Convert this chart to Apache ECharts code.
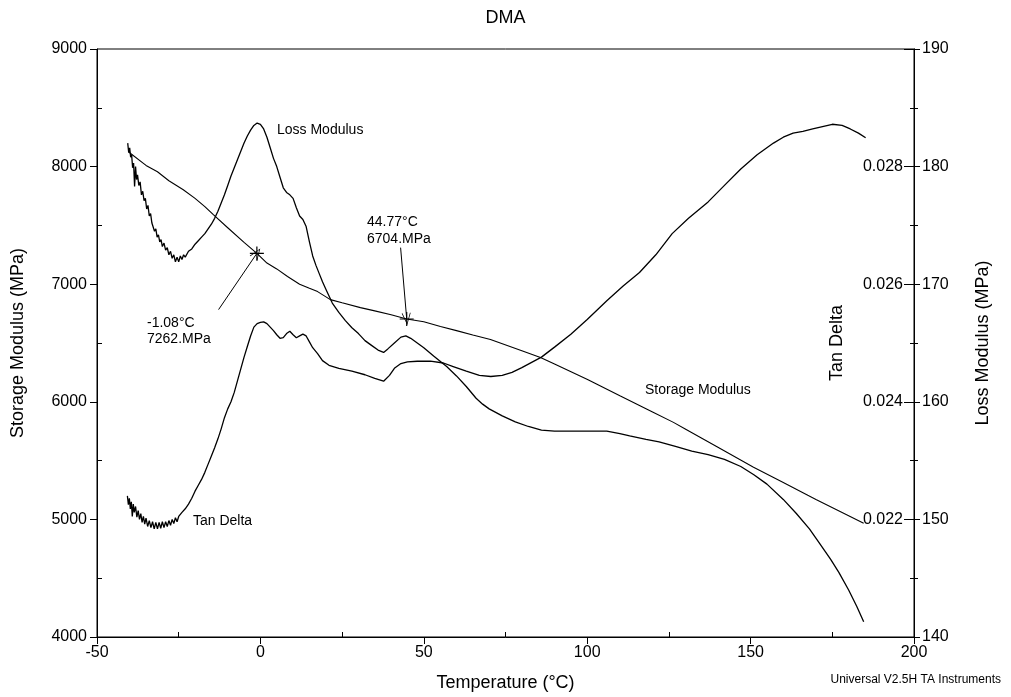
<!DOCTYPE html>
<html>
<head>
<meta charset="utf-8">
<script src="https://cdn.jsdelivr.net/npm/echarts@6/dist/echarts.min.js"></script>
<style>
html,body{margin:0;padding:0;background:#fff;}
#chart{width:1011px;height:697px;}
</style>
</head>
<body>
<div id="chart"></div>
<script>
// ---- Data ----
const xTicks = [-50, 0, 50, 100, 150, 200];

const storageTemp = [-40.4, -35, -31.5, -28, -23.6, -20, -17, -14.4, -10, -5, -1.08, 2, 5, 8.3, 12, 15, 17.5, 21.4, 25, 30.6, 35, 40, 44.77, 50, 55.1, 60, 65, 70.4, 80, 85.7, 90, 100.1, 110, 120, 126.4, 130, 140, 150.9, 160, 167.5, 170, 180, 184.6];
const storageVals = [8126, 8010, 7956, 7880, 7803, 7730, 7660, 7591, 7480, 7355, 7262, 7180, 7130, 7065, 7000, 6965, 6937, 6869, 6842, 6801, 6773, 6740, 6704, 6680, 6640, 6605, 6568, 6530, 6434, 6377, 6321, 6190, 6052, 5914, 5825, 5769, 5613, 5443, 5313, 5205, 5170, 5032, 4968];

const lossTemp = [-40.6, -40.3, -40.0, -39.7, -39.4, -39.1, -38.8, -38.5, -38.2, -37.9, -37.6, -37.2, -36.8, -36.4, -36.0, -35.6, -35.2, -34.8, -34.4, -34.0, -33.6, -33.2, -32.8, -32.4, -32.0, -31.6, -31.2, -30.8, -30.4, -30.0, -29.5, -29.0, -28.5, -28.0, -27.5, -27.0, -26.5, -26.0, -25.5, -25.0, -24.5, -24.0, -23.5, -23.0, -22.0, -21.0, -20.0, -19.0, -18.0, -17.0, -16.0, -15.0, -14.0, -13.0, -12.0, -11.0, -10.0, -9.0, -8.0, -7.0, -6.0, -5.0, -4.0, -3.0, -2.0, -1.0, 0.0, 1.0, 2.0, 3.0, 4.0, 5.0, 6.0, 7.0, 8.0, 9.0, 10.0, 11.0, 12.0, 13.0, 14.0, 15.0, 16.0, 17.0, 18.0, 19.0, 20.0, 21.0, 22.0, 24.0, 26.0, 28.0, 30.0, 32.0, 34.0, 36.0, 37.7, 39.0, 41.0, 43.0, 44.5, 46.0, 48.0, 50.0, 53.0, 57.0, 60.0, 63.0, 66.0, 68.0, 70.0, 74.0, 78.0, 82.0, 86.0, 90.0, 95.0, 100.0, 106.0, 110.0, 113.0, 118.0, 122.0, 127.0, 132.0, 137.0, 142.0, 147.0, 151.0, 155.0, 160.0, 164.0, 168.0, 171.0, 174.5, 177.0, 180.0, 182.5, 184.6];
const lossVals = [182.0, 181.2, 181.6, 180.8, 181.0, 179.9, 180.3, 178.3, 180.0, 178.9, 179.3, 178.4, 178.7, 177.6, 177.9, 177.1, 177.3, 176.4, 176.7, 175.8, 176.0, 175.2, 175.3, 174.5, 174.7, 174.0, 174.2, 173.6, 173.8, 173.2, 173.5, 172.9, 173.1, 172.5, 172.8, 172.2, 172.5, 171.9, 172.3, 171.9, 172.4, 172.1, 172.5, 172.3, 172.8, 173.0, 173.4, 173.7, 174.0, 174.3, 174.7, 175.1, 175.6, 176.2, 176.9, 177.6, 178.4, 179.2, 179.9, 180.6, 181.3, 182.0, 182.6, 183.1, 183.5, 183.7, 183.6, 183.2, 182.5, 181.6, 180.7, 180.0, 179.1, 178.2, 177.8, 177.6, 177.3, 176.5, 175.8, 175.5, 174.9, 173.6, 172.4, 171.6, 170.9, 170.2, 169.6, 169.0, 168.4, 167.6, 166.9, 166.3, 165.8, 165.2, 164.8, 164.4, 164.2, 164.5, 165.0, 165.5, 165.6, 165.4, 165.0, 164.6, 163.9, 163.0, 162.2, 161.3, 160.3, 159.8, 159.4, 158.8, 158.3, 157.9, 157.6, 157.5, 157.5, 157.5, 157.5, 157.3, 157.1, 156.8, 156.6, 156.2, 155.8, 155.5, 155.1, 154.5, 153.8, 153.0, 151.7, 150.5, 149.2, 148.0, 146.6, 145.5, 144.0, 142.6, 141.3];

const tanTemp = [-40.7, -40.4, -40.1, -39.8, -39.5, -39.2, -38.9, -38.6, -38.2, -37.8, -37.4, -37.0, -36.6, -36.2, -35.8, -35.4, -35.0, -34.5, -34.0, -33.5, -33.0, -32.5, -32.0, -31.5, -31.0, -30.5, -30.0, -29.5, -29.0, -28.5, -28.0, -27.5, -27.0, -26.5, -26.0, -25.5, -25.0, -24.5, -24.0, -23.0, -22.0, -21.0, -20.0, -19.0, -18.0, -17.0, -16.0, -15.0, -14.0, -13.0, -12.0, -11.0, -10.0, -9.0, -8.0, -7.0, -6.0, -5.0, -4.0, -3.0, -2.0, -1.0, 0.0, 1.0, 2.0, 3.0, 4.0, 5.0, 6.0, 7.0, 8.0, 9.0, 10.0, 11.0, 12.0, 13.0, 14.0, 15.0, 16.0, 17.5, 19.0, 21.0, 24.0, 28.0, 32.0, 35.0, 37.7, 39.5, 41.0, 43.0, 45.0, 48.0, 52.0, 56.0, 59.0, 63.0, 67.0, 70.5, 74.0, 77.0, 80.0, 83.0, 86.0, 90.0, 95.0, 100.0, 106.0, 111.0, 116.0, 121.0, 126.0, 131.0, 137.0, 142.0, 147.0, 152.0, 157.0, 160.0, 163.0, 166.0, 169.0, 172.0, 175.0, 178.0, 180.5, 183.0, 185.2];
const tanVals = [0.02240, 0.02225, 0.02236, 0.02218, 0.02230, 0.02205, 0.02226, 0.02212, 0.02222, 0.02204, 0.02215, 0.02200, 0.02210, 0.02195, 0.02205, 0.02192, 0.02202, 0.02188, 0.02198, 0.02186, 0.02196, 0.02184, 0.02195, 0.02184, 0.02195, 0.02185, 0.02196, 0.02186, 0.02196, 0.02188, 0.02198, 0.02190, 0.02200, 0.02193, 0.02203, 0.02196, 0.02205, 0.02203, 0.02212, 0.02218, 0.02226, 0.02236, 0.02248, 0.02258, 0.02268, 0.02280, 0.02294, 0.02308, 0.02322, 0.02337, 0.02354, 0.02373, 0.02388, 0.02400, 0.02416, 0.02436, 0.02456, 0.02476, 0.02494, 0.02512, 0.02527, 0.02533, 0.02535, 0.02536, 0.02533, 0.02527, 0.02521, 0.02514, 0.02508, 0.02509, 0.02516, 0.02520, 0.02514, 0.02509, 0.02512, 0.02515, 0.02512, 0.02502, 0.02492, 0.02482, 0.02470, 0.02462, 0.02457, 0.02452, 0.02446, 0.02440, 0.02435, 0.02445, 0.02457, 0.02465, 0.02468, 0.02469, 0.02469, 0.02466, 0.02460, 0.02452, 0.02445, 0.02443, 0.02445, 0.02450, 0.02458, 0.02467, 0.02476, 0.02493, 0.02515, 0.02540, 0.02572, 0.02597, 0.02620, 0.02650, 0.02686, 0.02712, 0.02740, 0.02768, 0.02796, 0.02820, 0.02840, 0.02850, 0.02857, 0.02860, 0.02864, 0.02868, 0.02872, 0.02870, 0.02864, 0.02857, 0.02849];

// annotated points (temperature, storage modulus) and arrow tails
const markTemps = [-1.08, 44.77];
const markStorage = [7262, 6704];
const arrowTailTemps = [-12.8, 42.9];
const arrowTailStorage = [6784, 7311];

const FONT = '"Liberation Sans", Arial, Helvetica, sans-serif';
const pair = (xs, ys) => xs.map((x, i) => [x, ys[i]]);

const chart = echarts.init(document.getElementById('chart'), null, {renderer: 'canvas'});

const plusPath = 'path://M-0.6,-7 L0.6,-7 L0.6,-0.6 L7,-0.6 L7,0.6 L0.6,0.6 L0.6,7 L-0.6,7 L-0.6,0.6 L-7,0.6 L-7,-0.6 L-0.6,-0.6 Z';
const arrowPath = 'path://M0,0 L6,12 L5,12 L0,2 L-5,12 L-6,12 Z';

const blackLine = {color: '#000', width: 1};
const plain = v => String(Math.round(v));

const option = {
  animation: false,
  backgroundColor: '#fff',
  textStyle: {fontFamily: FONT, color: '#000'},
  title: {
    text: 'DMA', left: 'center', top: 4,
    textStyle: {fontFamily: FONT, fontSize: 18, fontWeight: 'normal', color: '#000'}
  },
  grid: {left: 97, right: 97, top: 49, bottom: 59, show: true, borderColor: '#000', borderWidth: 1, backgroundColor: 'transparent'},
  xAxis: [
    {
      type: 'value', min: -50, max: 200, interval: 50, position: 'bottom',
      name: 'Temperature (°C)', nameLocation: 'middle', nameGap: 37,
      nameTextStyle: {fontFamily: FONT, fontSize: 18, color: '#000'},
      axisLine: {show: true, onZero: false, lineStyle: blackLine},
      axisTick: {show: true, length: 7, lineStyle: blackLine},
      axisLabel: {color: '#000', fontFamily: FONT, fontSize: 16, margin: 8, formatter: plain},
      splitLine: {show: false}
    },
    {
      type: 'value', min: -50, max: 200, interval: 25, position: 'bottom',
      axisLine: {show: false, onZero: false},
      axisTick: {show: true, inside: true, length: 5, lineStyle: blackLine, customValues: [-25, 25, 75, 125, 175]},
      axisLabel: {show: false},
      splitLine: {show: false}
    }
  ],
  yAxis: [
    {
      type: 'value', min: 4000, max: 9000, interval: 1000, position: 'left',
      name: 'Storage Modulus (MPa)', nameLocation: 'middle', nameGap: 70, nameRotate: 90,
      nameTextStyle: {fontFamily: FONT, fontSize: 18, color: '#000'},
      axisLine: {show: true, onZero: false, lineStyle: blackLine},
      axisTick: {show: true, length: 7, lineStyle: blackLine},
      axisLabel: {color: '#000', fontFamily: FONT, fontSize: 16, margin: 10, formatter: plain},
      splitLine: {show: false}
    },
    {
      type: 'value', min: 0.020, max: 0.030, interval: 0.002, position: 'right',
      name: 'Tan Delta', nameLocation: 'middle', nameGap: -86, nameRotate: 90,
      nameTextStyle: {fontFamily: FONT, fontSize: 18, color: '#000'},
      axisLine: {show: true, onZero: false, lineStyle: blackLine},
      axisTick: {show: true, inside: true, length: 10, lineStyle: blackLine},
      minorTick: {show: true, splitNumber: 2, length: 4, lineStyle: blackLine},
      axisLabel: {inside: true, color: '#000', fontFamily: FONT, fontSize: 16, margin: 11,
        showMinLabel: false, showMaxLabel: false,
        formatter: v => v.toFixed(3)},
      splitLine: {show: false}
    },
    {
      type: 'value', min: 140, max: 190, interval: 10, position: 'right',
      name: 'Loss Modulus (MPa)', nameLocation: 'middle', nameGap: 60, nameRotate: 90,
      nameTextStyle: {fontFamily: FONT, fontSize: 18, color: '#000'},
      axisLine: {show: true, onZero: false, lineStyle: blackLine},
      axisTick: {show: true, length: 6, lineStyle: blackLine},
      minorTick: {show: true, splitNumber: 2, length: 4, lineStyle: blackLine},
      axisLabel: {color: '#000', fontFamily: FONT, fontSize: 16, margin: 8, formatter: plain},
      splitLine: {show: false}
    },
    {
      type: 'value', min: 4000, max: 9000, interval: 500, position: 'left',
      axisLine: {show: false, onZero: false},
      axisTick: {show: true, inside: true, length: 5, lineStyle: blackLine, customValues: [4500, 5500, 6500, 7500, 8500]},
      axisLabel: {show: false},
      splitLine: {show: false}
    }
  ],
  graphic: [
    {type: 'text', left: 277, top: 123, style: {text: 'Loss Modulus', font: '14px ' + FONT, fill: '#000'}},
    {type: 'text', left: 645, top: 383, style: {text: 'Storage Modulus', font: '14px ' + FONT, fill: '#000'}},
    {type: 'text', left: 193, top: 514, style: {text: 'Tan Delta', font: '14px ' + FONT, fill: '#000'}},
    {type: 'text', left: 147, top: 315, style: {text: '-1.08°C\n7262.MPa', font: '14px ' + FONT, fill: '#000', lineHeight: 16}},
    {type: 'text', left: 367, top: 214, style: {text: '44.77°C\n6704.MPa', font: '14px ' + FONT, fill: '#000', lineHeight: 17}},
    {type: 'text', right: 10, top: 674, style: {text: 'Universal V2.5H TA Instruments', font: '12px ' + FONT, fill: '#000'}}
  ],
  series: [
    {
      name: 'Storage Modulus', type: 'line', xAxisIndex: 0, yAxisIndex: 0,
      data: pair(storageTemp, storageVals), showSymbol: false, symbol: 'none',
      lineStyle: {color: '#000', width: 1.1}, itemStyle: {color: '#000'},
      markPoint: {
        symbol: plusPath, symbolSize: 14, silent: true,
        itemStyle: {color: '#000'}, label: {show: false},
        data: markTemps.map((t, i) => ({coord: [t, markStorage[i]]}))
      },
      markLine: {
        silent: true, symbol: ['none', arrowPath], symbolSize: [9, 12],
        lineStyle: {color: '#000', width: 1, type: 'solid'},
        label: {show: false},
        data: markTemps.map((t, i) => [
          {coord: [arrowTailTemps[i], arrowTailStorage[i]]},
          {coord: [t, markStorage[i]]}
        ])
      }
    },
    {
      name: 'Loss Modulus', type: 'line', xAxisIndex: 0, yAxisIndex: 2,
      data: pair(lossTemp, lossVals), showSymbol: false, symbol: 'none',
      lineStyle: {color: '#000', width: 1.3}
    },
    {
      name: 'Tan Delta', type: 'line', xAxisIndex: 0, yAxisIndex: 1,
      data: pair(tanTemp, tanVals), showSymbol: false, symbol: 'none',
      lineStyle: {color: '#000', width: 1.3}
    }
  ]
};
chart.setOption(option);
</script>
</body>
</html>
